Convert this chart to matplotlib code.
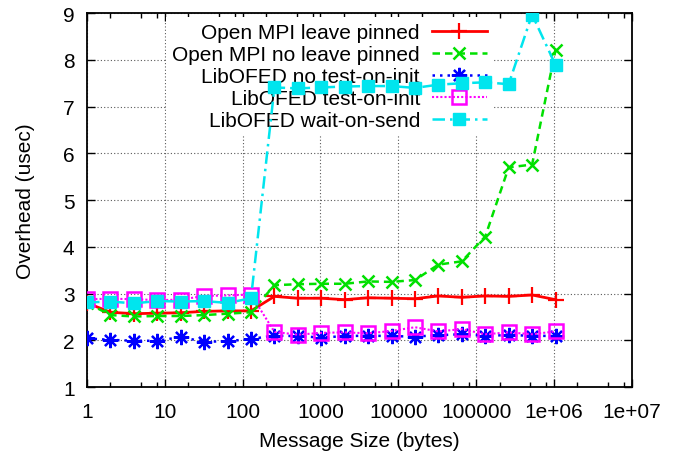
import numpy as np
import matplotlib
matplotlib.use("Agg")
import matplotlib.pyplot as plt
from matplotlib.ticker import FixedLocator, LogLocator, NullFormatter

plt.rcParams['font.family'] = ['Liberation Sans', 'DejaVu Sans']
plt.rcParams['font.size'] = 15

# message sizes (bytes)
sizes = [1, 2, 4, 8, 16, 32, 64, 128, 256, 512, 1024, 2048, 4096, 8192,
         16384, 32768, 65536, 131072, 262144, 524288, 1048576]

# overhead (usec) per series
leave_pinned = [2.80, 2.60, 2.57, 2.58, 2.59, 2.62, 2.63, 2.63, 2.94, 2.90, 2.90,
                2.87, 2.91, 2.90, 2.89, 2.95, 2.92, 2.95, 2.94, 2.97, 2.87]
no_leave_pinned = [2.80, 2.54, 2.51, 2.52, 2.52, 2.54, 2.57, 2.60, 3.18, 3.20, 3.21,
                   3.21, 3.26, 3.25, 3.29, 3.62, 3.69, 4.22, 5.70, 5.76, 8.21]
no_test_on_init = [2.04, 2.01, 1.99, 1.99, 2.07, 1.97, 1.98, 2.03, 2.10, 2.09, 2.06,
                   2.09, 2.10, 2.09, 2.08, 2.11, 2.13, 2.10, 2.11, 2.10, 2.09]
test_on_init = [2.88, 2.89, 2.88, 2.86, 2.87, 2.95, 2.96, 2.98, 2.18, 2.12, 2.16,
                2.17, 2.15, 2.20, 2.28, 2.19, 2.24, 2.13, 2.17, 2.13, 2.19]
wait_on_send = [2.81, 2.83, 2.79, 2.84, 2.83, 2.84, 2.80, 2.90, 7.41, 7.39, 7.41,
                7.43, 7.44, 7.44, 7.40, 7.47, 7.50, 7.52, 7.48, 8.97, 7.89]

labels = ["Open MPI leave pinned", "Open MPI no leave pinned",
          "LibOFED no test-on-init", "LibOFED test-on-init", "LibOFED wait-on-send"]

xticks = [1, 10, 100, 1000, 10000, 100000, 1e6, 1e7]
xticklabels = ["1", "10", "100", "1000", "10000", "100000", "1e+06", "1e+07"]

fig = plt.figure(figsize=(6.8, 4.56), dpi=100)
ax = fig.add_axes([0.128, 0.149, 0.801, 0.820])

ax.plot(sizes, leave_pinned, color='#ff0000', lw=2, marker='+', ms=11, mew=1.6,
        label=labels[0], zorder=3)
ax.plot(sizes, no_leave_pinned, color='#00e000', lw=1.8, ls=(0, (3, 2)), marker='x',
        ms=9, mew=1.8, label=labels[1], zorder=4)
ax.plot(sizes, no_test_on_init, color='#0000ff', lw=1.8, ls=(0, (1, 2)), marker=(8, 2, 0),
        ms=11, mew=1.6, label=labels[2], zorder=5)
ax.plot(sizes, test_on_init, color='#ff00ff', lw=1.5, ls=(0, (1, 1)), marker='s',
        ms=10, mew=1.8, mfc='none', label=labels[3], zorder=6)
ax.plot(sizes, wait_on_send, color='#00e5ee', lw=1.8, ls=(0, (5, 2, 1, 2)), marker='s',
        ms=9, label=labels[4], zorder=7)

ax.set_xscale('log')
ax.set_xlim(1, 1e7)
ax.set_ylim(1, 9)
ax.xaxis.set_major_locator(FixedLocator(xticks))
ax.set_xticklabels(xticklabels)
ax.xaxis.set_minor_locator(LogLocator(base=10, subs=[2, 5, 8], numticks=20))
ax.xaxis.set_minor_formatter(NullFormatter())
ax.set_yticks(range(1, 10))

ax.tick_params(which='both', direction='in', top=True, right=True, width=1)
ax.tick_params(which='major', length=6)
ax.tick_params(which='minor', length=3.5)
ax.tick_params(axis='x', pad=11)
ax.tick_params(axis='y', pad=9)
for s in ax.spines.values():
    s.set_linewidth(1.3)

ax.grid(True, which='major', color='0.35', ls=(0, (1, 2)), lw=0.8)

ax.set_xlabel("Message Size (bytes)", labelpad=7)
ax.set_ylabel("Overhead (usec)", labelpad=20)

leg = ax.legend(loc='upper right', bbox_to_anchor=(0.745, 0.99), markerfirst=False,
                frameon=True, fancybox=False, edgecolor='none', framealpha=1,
                borderpad=0.3, borderaxespad=0, handlelength=2.6, handletextpad=0.6,
                labelspacing=0.14)
leg.set_zorder(2)

fig.savefig("out.png", dpi=100)
